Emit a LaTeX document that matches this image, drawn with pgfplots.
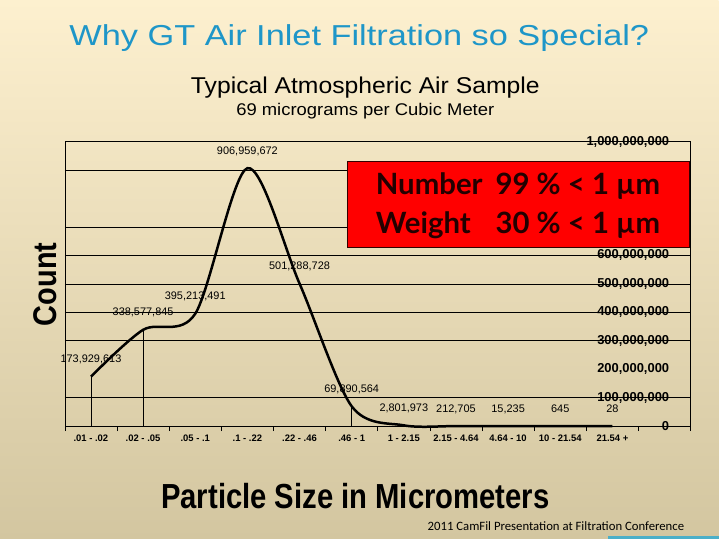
\documentclass[border=0pt]{standalone}
\usepackage{pgfplots}
\pgfplotsset{compat=1.18}
\usepackage{fontspec}
\setmainfont{Liberation Sans}
\newfontfamily\boxfont{Lato}
\newfontfamily\footfont{Carlito}

\definecolor{titleblue}{RGB}{30,150,200}
\definecolor{bgtop}{RGB}{253,240,207}
\definecolor{bgmid}{RGB}{243,236,216}
\definecolor{bgbot}{RGB}{211,198,160}
\definecolor{boxred}{RGB}{255,0,0}
\definecolor{boxtext}{RGB}{35,0,0}
\definecolor{footline}{RGB}{75,175,200}

\begin{document}
\begin{tikzpicture}[x=1bp,y=1bp]
\shade[top color=bgtop, middle color=bgmid, bottom color=bgbot] (0,0) rectangle (720,540);
\fill[footline] (609,0) rectangle (720,2.5);

\node[text=titleblue] at (360,502)
  {\scalebox{1.19}[1]{\fontsize{29}{29}\selectfont Why GT Air Inlet Filtration so Special?}};
\node at (366,452) {\scalebox{1.08}[1]{\fontsize{23}{23}\selectfont Typical Atmospheric Air Sample}};
\node at (366,429) {\scalebox{1.09}[1]{\fontsize{17}{17}\selectfont 69 micrograms per Cubic Meter}};

\begin{axis}[
  at={(65bp,113bp)}, anchor=south west,
  width=627bp, height=285bp, scale only axis,
  xmin=-0.5, xmax=11.5, ymin=0, ymax=1000000000,
  axis line style={black, line width=0.7bp},
  xtick={-0.5,0.5,1.5,2.5,3.5,4.5,5.5,6.5,7.5,8.5,9.5,10.5,11.5},
  xticklabels={.01 - .02, .02 - .05, .05 - .1, .1 - .22, .22 - .46, .46 - 1,
    1 - 2.15, 2.15 - 4.64, 4.64 - 10, 10 - 21.54, 21.54 +, {}},
  xticklabel style={xshift=26.1bp, font=\fontsize{9.5}{9.5}\selectfont\bfseries},
  xtick pos=bottom, tick align=outside, major tick length=5bp,
  xtick style={black, line width=0.7bp},
  scaled y ticks=false,
  ytick={0,100000000,200000000,300000000,400000000,500000000,600000000,700000000,800000000,900000000,1000000000},
  yticklabels={0,{100,000,000},{200,000,000},{300,000,000},{400,000,000},{500,000,000},
    {600,000,000},{700,000,000},{800,000,000},{900,000,000},{1,000,000,000}},
  ytick pos=right, ytick style={draw=none},
  yticklabel style={anchor=east, xshift=-23bp, font=\fontsize{13}{13}\selectfont\bfseries},
  extra y ticks={100000000,300000000,400000000,500000000,600000000,700000000,900000000},
  extra y tick labels={},
  extra y tick style={grid=major, ytick style={draw=none}},
  major grid style={black, line width=0.7bp},
  clip=false,
]
\addplot[ycomb, black, line width=0.7bp] coordinates {
  (0,173929613) (1,338577845) (5,69890564)};
\addplot[smooth, black, line width=2.5bp, no marks,
  nodes near coords, point meta=explicit symbolic,
  every node near coord/.append style={anchor=center, yshift=17bp,
    font=\fontsize{11}{11}\selectfont, text=black}]
  table[meta=lab] {
x y lab
0 173929613 173,929,613
1 338577845 338,577,845
2 395213491 395,213,491
3 906959672 906,959,672
4 501288728 501,288,728
5 69890564 69,890,564
6 2801973 2,801,973
7 212705 212,705
8 15235 15,235
9 645 645
10 28 28
};
\end{axis}

% annotation box, drawn over the upper grid lines as in the slide
\node[fill=boxred, draw=black!80!red, line width=1bp, minimum width=343bp, minimum height=86bp,
  inner sep=0pt] at (519.5,335) {};
\node[text=boxtext, font=\boxfont\bfseries\fontsize{29.5}{39}\selectfont] at (519,333)
  {\begin{tabular}{@{}l@{\hspace{13bp}}l@{}}Number & 99 \% < 1 µm\\ Weight & 30 \% < 1 µm\end{tabular}};

\node[rotate=90] at (45,255) {\scalebox{0.88}[1]{\fontsize{33}{33}\selectfont\bfseries Count}};
\node at (356,43) {\scalebox{0.84}[1]{\fontsize{35}{35}\selectfont\bfseries Particle Size in Micrometers}};
\node[anchor=east, font=\footfont\fontsize{12.8}{12.8}\selectfont] at (689,13)
  {2011 CamFil Presentation at Filtration Conference};
\end{tikzpicture}
\end{document}
